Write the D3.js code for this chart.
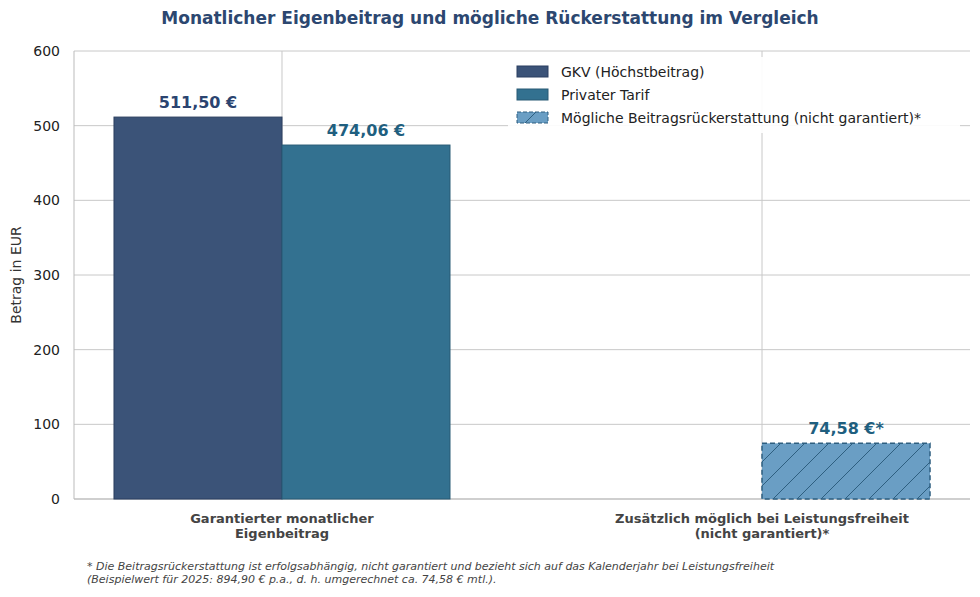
<!DOCTYPE html><html><head><meta charset="utf-8"><script src="https://cdn.jsdelivr.net/npm/d3@7"></script>
<style>body{margin:0;background:#fff;font-family:"DejaVu Sans",sans-serif}</style></head><body><svg id="c" width="980" height="597"></svg>
<script>
const categories=["Garantierter monatlicher\nEigenbeitrag","Zusätzlich möglich bei Leistungsfreiheit\n(nicht garantiert)*"];
const gkv=[511.50,null];
const privat=[474.06,null];
const refund=[null,74.58];
const yTicks=[0,100,200,300,400,500,600];
const legendLabels=["GKV (Höchstbeitrag)","Privater Tarif","Mögliche Beitragsrückerstattung (nicht garantiert)*"];
const svg=d3.select("#c");
const L=74,R=970,T=51,B=499;
const x=d3.scaleLinear().domain([-0.4333,1.4333]).range([L,R]);
const y=d3.scaleLinear().domain([0,600]).range([B,T]);
const bw=0.35;
const defs=svg.append("defs");
const p=defs.append("pattern").attr("id","h").attr("patternUnits","userSpaceOnUse").attr("width",24).attr("height",24);
p.append("rect").attr("width",24).attr("height",24).attr("fill","#6a9ec4");
p.append("path").attr("d","M-6,6 L6,-6 M0,24 L24,0 M18,30 L30,18").attr("stroke","#2e5f80").attr("stroke-width",1);
// grid
svg.append("g").selectAll("line").data(yTicks).join("line").attr("x1",L).attr("x2",R).attr("y1",d=>y(d)).attr("y2",d=>y(d)).attr("stroke","#c8c8c8");
svg.append("g").selectAll("line").data([0,1]).join("line").attr("x1",d=>x(d)).attr("x2",d=>x(d)).attr("y1",T).attr("y2",B).attr("stroke","#c8c8c8");
svg.append("line").attr("x1",L).attr("x2",L).attr("y1",T).attr("y2",B).attr("stroke","#bbb");
svg.append("line").attr("x1",L).attr("x2",R).attr("y1",B).attr("y2",B).attr("stroke","#bbb");
function bars(data,off,fill,stroke,dash,lc,lbl){
 data.forEach((v,i)=>{ if(v==null)return;
  const x0=x(i+off-bw/2),x1=x(i+off+bw/2);
  svg.append("rect").attr("x",x0).attr("y",y(v)).attr("width",x1-x0).attr("height",y(0)-y(v)).attr("fill",fill).attr("stroke",stroke).attr("stroke-width",dash?1.5:1).attr("stroke-dasharray",dash?"5,3":null);
  svg.append("text").attr("x",(x0+x1)/2).attr("y",y(v)-9).attr("text-anchor","middle").attr("font-size",16).attr("font-weight","bold").attr("fill",lc).text(v.toFixed(2).replace(".",",")+" €"+lbl);
 });}
bars(gkv,-bw/2,"#3b5378","#2b3f60",false,"#2b4470","");
bars(privat,bw/2,"#337190","#285a75",false,"#1f5f7f","");
bars(refund,bw/2,"url(#h)","#2e5f80",true,"#1f5f7f","*");
// y axis
svg.append("g").selectAll("text").data(yTicks).join("text").attr("x",L-14).attr("y",d=>y(d)+5).attr("text-anchor","end").attr("font-size",14).attr("fill","#222").text(d=>d);
svg.append("text").attr("transform",`translate(21,${(T+B)/2}) rotate(-90)`).attr("text-anchor","middle").attr("font-size",14).attr("fill","#333").text("Betrag in EUR");
categories.forEach((c,i)=>{c.split("\n").forEach((l,j)=>svg.append("text").attr("x",x(i)).attr("y",523+j*15).attr("text-anchor","middle").attr("font-size",13).attr("font-weight","bold").attr("fill","#444").text(l));});
svg.append("text").attr("x",490).attr("y",24).attr("text-anchor","middle").attr("font-size",17).attr("font-weight","bold").attr("fill","#2c4770").text("Monatlicher Eigenbeitrag und mögliche Rückerstattung im Vergleich");
// legend
svg.append("rect").attr("x",508).attr("y",57).attr("width",452).attr("height",76).attr("fill","#fff").attr("opacity",0.9);
const lf=[["#3b5378","#2b3f60",false],["#337190","#285a75",false],["url(#h)","#2e5f80",true]];
legendLabels.forEach((t,i)=>{const yy=72+i*23;
 svg.append("rect").attr("x",517).attr("y",yy-6).attr("width",31).attr("height",11).attr("fill",lf[i][0]).attr("stroke",lf[i][1]).attr("stroke-dasharray",lf[i][2]?"4,2":null);
 svg.append("text").attr("x",561).attr("y",yy+5).attr("font-size",14).attr("fill","#222").text(t);});
["* Die Beitragsrückerstattung ist erfolgsabhängig, nicht garantiert und bezieht sich auf das Kalenderjahr bei Leistungsfreiheit","(Beispielwert für 2025: 894,90 € p.a., d. h. umgerechnet ca. 74,58 € mtl.)."].forEach((t,j)=>svg.append("text").attr("x",87).attr("y",570+j*13).attr("font-size",11).attr("font-style","italic").attr("fill","#444").text(t));
</script></body></html>
